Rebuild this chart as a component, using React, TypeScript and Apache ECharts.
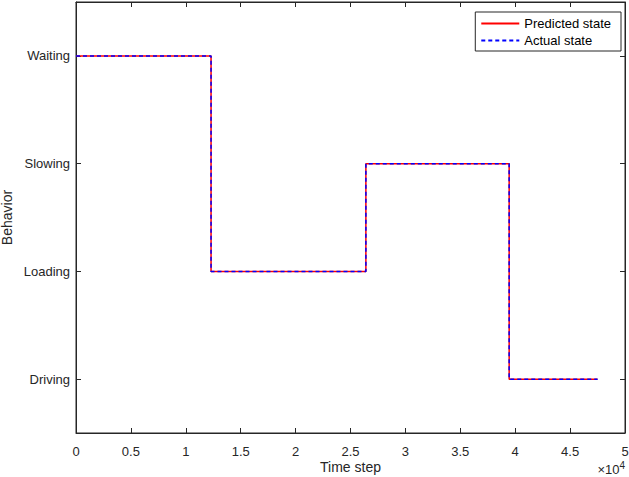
import React, { useEffect, useRef } from 'react';
import * as echarts from 'echarts';

const behaviors = ['Driving', 'Loading', 'Slowing', 'Waiting'];
const xTicks = [0, 0.5, 1, 1.5, 2, 2.5, 3, 3.5, 4, 4.5, 5];

// step change points: [time step, behavior]
const predictedState: [number, string][] = [
  [0, 'Waiting'], [12300, 'Waiting'], [12300, 'Loading'], [26400, 'Loading'],
  [26400, 'Slowing'], [39450, 'Slowing'], [39450, 'Driving'], [47500, 'Driving']
];
const actualState: [number, string][] = [
  [0, 'Waiting'], [12300, 'Waiting'], [12300, 'Loading'], [26400, 'Loading'],
  [26400, 'Slowing'], [39450, 'Slowing'], [39450, 'Driving'], [47500, 'Driving']
];

const FONT = '"Liberation Sans", Arial, sans-serif';
const INK = '#262626';

const axisLine = () => ({ show: true, onZero: false, lineStyle: { color: INK, width: 1 } });
const tick = (align = false) => ({
  show: true,
  inside: true,
  length: 5,
  alignWithLabel: align,
  lineStyle: { color: INK, width: 1 }
});

const App: React.FC = () => {
  const chartRef = useRef<HTMLDivElement>(null);

  useEffect(() => {
    if (!chartRef.current) return;
    const chart = echarts.init(chartRef.current, undefined, { renderer: 'svg' });

    const option: any = {
      animation: false,
      backgroundColor: '#fff',
      textStyle: { fontFamily: FONT },
      grid: {
        left: 76,
        right: 4,
        top: 2,
        bottom: 44,
        containLabel: false,
        outerBoundsMode: 'none',
        show: true,
        borderColor: INK,
        borderWidth: 1,
        backgroundColor: 'transparent'
      },
      legend: {
        right: 8,
        top: 12,
        orient: 'vertical',
        backgroundColor: '#fff',
        borderColor: INK,
        borderWidth: 1,
        padding: [5, 10, 4, 5],
        itemGap: 4,
        itemWidth: 38,
        itemHeight: 12,
        itemStyle: { opacity: 0 },
        textStyle: { fontFamily: FONT, fontSize: 13, color: '#000' },
        data: ['Predicted state', 'Actual state']
      },
      xAxis: [
        {
          type: 'value',
          min: 0,
          max: 50000,
          interval: 5000,
          name: 'Time step',
          nameLocation: 'middle',
          nameGap: 27,
          nameMoveOverlap: false,
          nameTextStyle: { fontFamily: FONT, fontSize: 14, color: INK },
          axisLine: axisLine(),
          axisTick: tick(),
          splitLine: { show: false },
          axisLabel: {
            fontFamily: FONT,
            fontSize: 13,
            color: INK,
            margin: 12,
            formatter: (v: number) => {
              const t = xTicks.find((x) => Math.abs(x * 10000 - v) < 1);
              return t === undefined ? '' : String(t);
            }
          }
        },
        {
          type: 'value',
          position: 'top',
          min: 0,
          max: 50000,
          interval: 5000,
          axisLine: axisLine(),
          axisTick: tick(),
          axisLabel: { show: false },
          splitLine: { show: false }
        }
      ],
      yAxis: [
        {
          type: 'category',
          data: behaviors,
          boundaryGap: true,
          name: 'Behavior',
          nameLocation: 'middle',
          nameGap: 62,
          nameMoveOverlap: false,
          nameTextStyle: { fontFamily: FONT, fontSize: 14, color: INK },
          axisLine: axisLine(),
          axisTick: tick(true),
          splitLine: { show: false },
          axisLabel: { fontFamily: FONT, fontSize: 13, color: INK, margin: 6 }
        },
        {
          type: 'category',
          data: behaviors,
          boundaryGap: true,
          position: 'right',
          axisLine: axisLine(),
          axisTick: tick(true),
          axisLabel: { show: false },
          splitLine: { show: false }
        }
      ],
      graphic: [
        {
          type: 'text',
          right: 4,
          bottom: 1,
          style: {
            text: '×10{sup|4}',
            fontFamily: FONT,
            fontSize: 13,
            fill: INK,
            rich: { sup: { fontSize: 10, verticalAlign: 'top', padding: [0, 0, 8, 0], fill: INK } }
          }
        }
      ],
      series: [
        {
          name: 'Predicted state',
          type: 'line',
          data: predictedState,
          symbol: 'none',
          lineStyle: { color: '#ff0000', width: 1.5, type: 'solid' },
          itemStyle: { color: '#ff0000' },
          z: 2
        },
        {
          name: 'Actual state',
          type: 'line',
          data: actualState,
          symbol: 'none',
          lineStyle: { color: '#0000ff', width: 1.5, type: [4, 3] },
          itemStyle: { color: '#0000ff' },
          z: 3
        },
        {
          // keeps the top and right frame axes active
          name: 'frame',
          type: 'line',
          xAxisIndex: 1,
          yAxisIndex: 1,
          data: [[0, 'Driving']],
          symbol: 'none',
          silent: true
        }
      ]
    };

    chart.setOption(option);
    return () => chart.dispose();
  }, []);

  return (
    <div
      ref={chartRef}
      style={{ position: 'absolute', left: 0, top: 0, width: 629, height: 477 }}
    />
  );
};

export default App;
